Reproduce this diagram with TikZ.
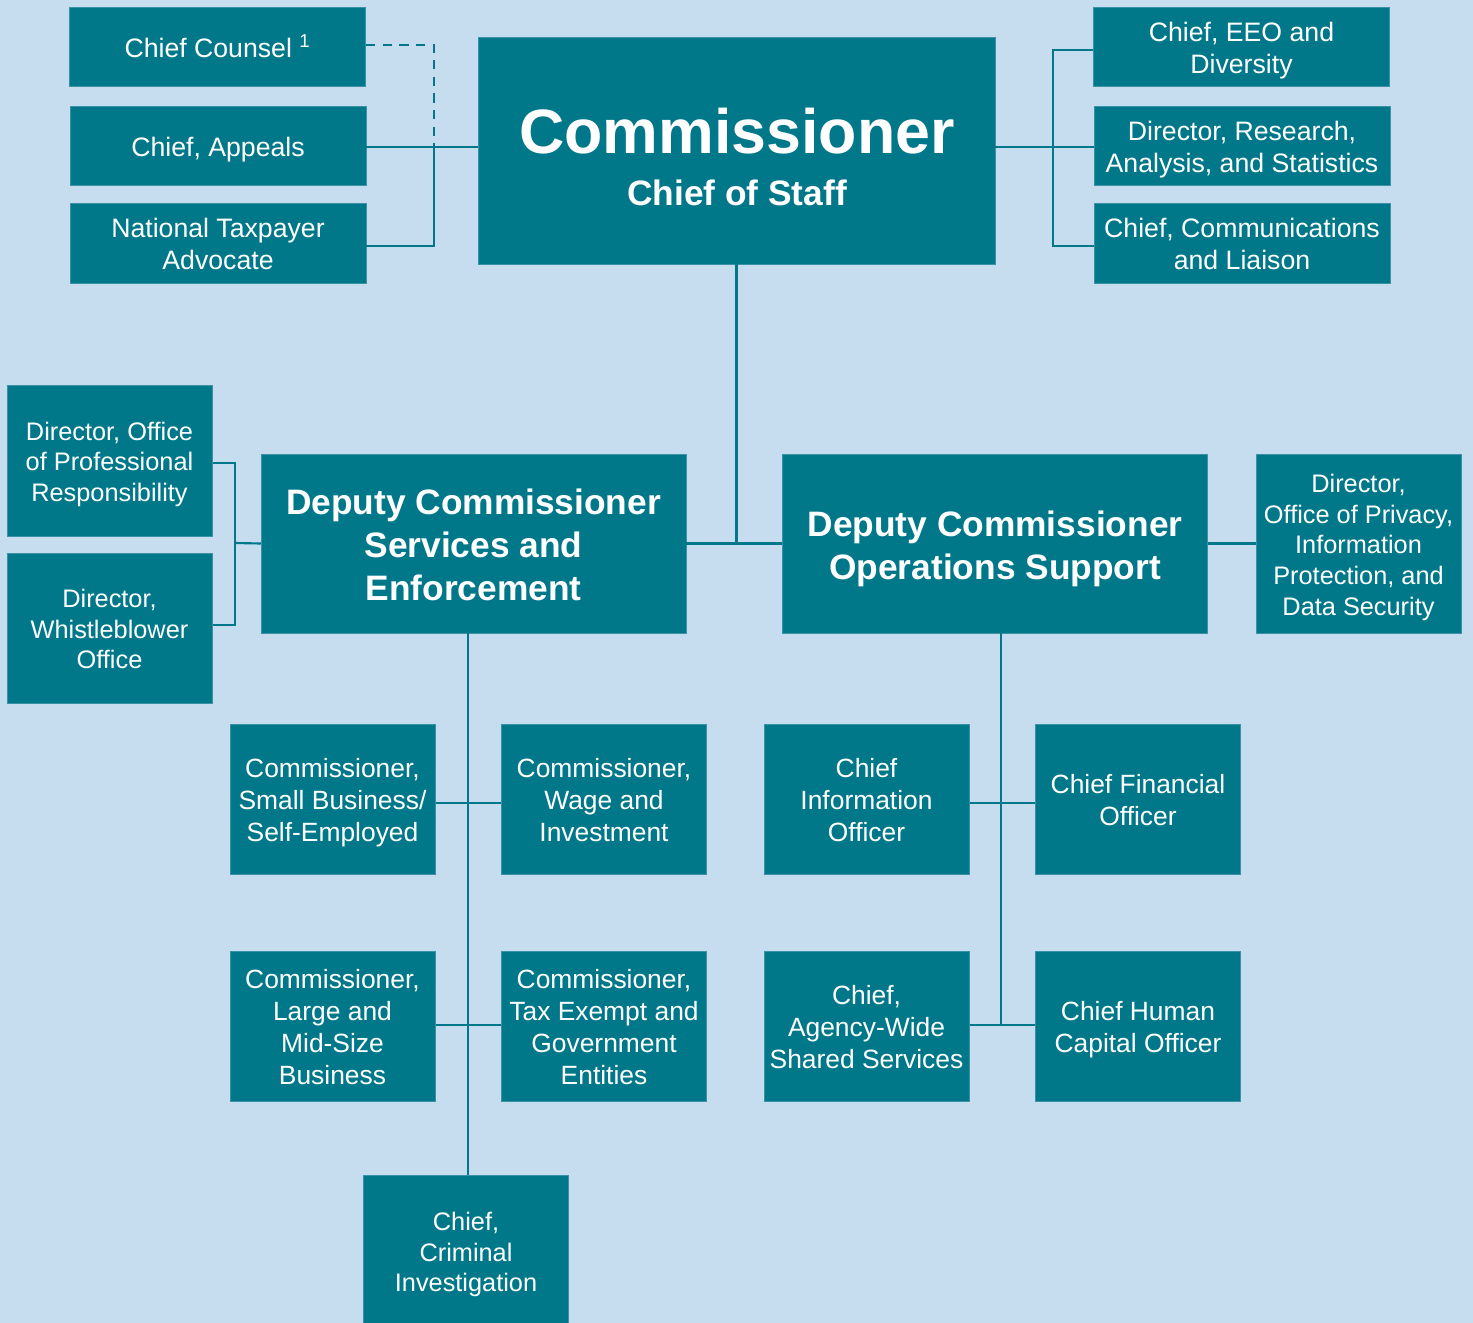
\documentclass[tikz,border=0pt]{standalone}
\usepackage{fontspec}
\setmainfont{Liberation Sans}
\definecolor{bg}{HTML}{C6DCEF}
\definecolor{teal}{HTML}{00788A}
\definecolor{tealedge}{HTML}{3A93A5}
\newcommand\fs{\rule{0pt}{1.055em}}
\begin{document}
\begin{tikzpicture}[x=0.75pt,y=-0.75pt,
  box/.style={fill=teal,draw=tealedge,line width=0.5pt,inner sep=0pt,align=center,text=white,
    execute at end node={\rule[-0.25em]{0pt}{0pt}}},
  wide/.style={box,minimum width=222pt,minimum height=59.25pt,font=\fontsize{20}{24}\selectfont},
  sq/.style={box,minimum width=154pt,minimum height=112.5pt,font=\fontsize{19.8}{24}\selectfont},
  sqs/.style={box,minimum width=154pt,font=\fontsize{19}{23}\selectfont},
  big/.style={box,minimum width=318.5pt,minimum height=134.25pt,font=\bfseries\fontsize{26.5}{32.2}\selectfont},
  conn/.style={draw=teal,line width=1.6pt}]
\fill[bg] (0,0) rectangle (1473,1323);
\useasboundingbox (0,0) rectangle (1473,1323);
% top row
\node[wide] (cc) at (217.5,47) {\fs Chief Counsel \textsuperscript{1}};
\node[wide] (ap) at (218,145.5) {\fs Chief, Appeals};
\node[wide,minimum height=60pt] (nta) at (218,243) {\fs National Taxpayer\\Advocate};
\node[box,minimum width=387.75pt,minimum height=170.25pt] (com) at (736.5,150.5) {};
\node[text=white,font=\bfseries\fontsize{47}{50}\selectfont,inner sep=0pt] (comt) at (737,131) {Commissioner};
\node[text=white,font=\bfseries\fontsize{26.5}{30}\selectfont,inner sep=0pt] (cos) at (737,193) {Chief of Staff};
\node[wide] (eeo) at (1241.5,47) {\fs Chief, EEO and\\Diversity};
\node[wide] (ras) at (1242,145.5) {\fs Director, Research,\\Analysis, and Statistics};
\node[wide,minimum height=60pt] (cl) at (1242,243) {\fs Chief, Communications\\and Liaison};
% middle row
\node[sqs,minimum height=113.25pt] (opr) at (109.5,460.5) {\fs Director, Office\\of Professional\\Responsibility};
\node[sqs,minimum height=112.5pt] (wb) at (109.5,628) {\fs Director,\\Whistleblower\\Office};
\node[big] (dse) at (473.5,543.5) {\fs Deputy Commissioner\\Services and\\Enforcement};
\node[big] (dos) at (995,543.5) {\fs Deputy Commissioner\\Operations Support};
\node[sqs,minimum height=134.25pt] (priv) at (1358.5,543.5) {\fs Director,\\Office of Privacy,\\Information\\Protection, and\\Data Security};
% lower rows
\node[sq] (sb) at (332.5,799) {\fs Commissioner,\\Small Business/\\Self-Employed};
\node[sq] (wi) at (604,799) {\fs Commissioner,\\Wage and\\Investment};
\node[sq] (cio) at (866.5,799) {\fs Chief\\Information\\Officer};
\node[sq] (cfo) at (1138,799) {\fs Chief Financial\\Officer};
\node[sq] (lm) at (332.5,1026) {\fs Commissioner,\\Large and\\Mid-Size\\Business};
\node[sq] (te) at (604,1026) {\fs Commissioner,\\Tax Exempt and\\Government\\Entities};
\node[sq] (aw) at (866.5,1026) {\fs Chief,\\Agency-Wide\\Shared Services};
\node[sq] (hc) at (1138,1026) {\fs Chief Human\\Capital Officer};
\node[sqs,minimum height=114pt] (ci) at (466,1251) {\fs Chief,\\Criminal\\Investigation};
% junctions
\coordinate (lj) at (434,147);
\coordinate (rj) at (1053,147);
\coordinate (mj) at (235,543);
\coordinate (t1) at (468,1025);
\coordinate (t2) at (1001,1025);
\coordinate (r1) at (0,803);
\coordinate (r2) at (0,1025);
% connectors
\draw[conn] (ap.east |- lj) -- (lj -| com.west);
\draw[conn] ([yshift=-2.25pt]nta.east) -| (lj);
\draw[conn,dash pattern=on 7pt off 5.5pt] ([yshift=1.5pt]cc.east) -| (lj);
\draw[conn] (com.east |- rj) -- (rj -| ras.west);
\draw[conn] ([yshift=-2.25pt]eeo.west) -| (rj) |- ([yshift=-2.25pt]cl.west);
\draw[conn] (com.south) -- (com.south |- dse.east);
\draw[conn] (dse.east) -- (dos.west);
\draw[conn] (dos.east) -- (priv.west);
\draw[conn] (dse.west) -- (mj);
\draw[conn] ([yshift=-1.9pt]opr.east) -| (mj) |- ([yshift=2.25pt]wb.east);
\draw[conn] (t1 |- dse.south) -- (t1 |- ci.north);
\draw[conn] (sb.east |- r1) -- (wi.west |- r1);
\draw[conn] (lm.east |- r2) -- (te.west |- r2);
\draw[conn] (t2 |- dos.south) -- (t2);
\draw[conn] (cio.east |- r1) -- (cfo.west |- r1);
\draw[conn] (aw.east |- r2) -- (hc.west |- r2);
\end{tikzpicture}
\end{document}
